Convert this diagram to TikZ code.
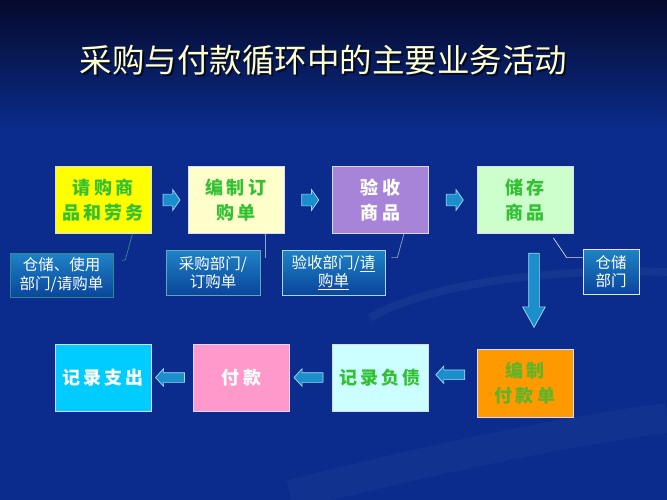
\documentclass[tikz,border=0pt]{standalone}
\usepackage{fontspec}
\usetikzlibrary{shapes.arrows,calc}
\newfontfamily\cjk{Noto Sans CJK SC}
\newfontfamily\cjkbox[LetterSpace=18]{Noto Sans CJK SC}
\definecolor{bgTop}{HTML}{050A2C}
\definecolor{bgMain}{HTML}{0B2C8C}
\definecolor{cYellow}{HTML}{FFFF00}
\definecolor{cCream}{HTML}{FFFFCC}
\definecolor{cPurple}{HTML}{A784D8}
\definecolor{cMint}{HTML}{CCFFCC}
\definecolor{cCyan}{HTML}{00CCFF}
\definecolor{cPink}{HTML}{FF99CC}
\definecolor{cIce}{HTML}{CCFFFF}
\definecolor{cOrange}{HTML}{FF9900}
\definecolor{cGreen}{HTML}{33C133}
\definecolor{cGreenD}{HTML}{5FB52A}
\definecolor{cTitle}{HTML}{FFFFCC}
\definecolor{cArrow}{HTML}{1B8FCB}
\definecolor{cArrowEdge}{HTML}{A8D8F0}
\definecolor{cCallTop}{HTML}{1F83C6}
\definecolor{cCallBot}{HTML}{0A459C}
\definecolor{cTeal}{HTML}{2F8A8A}
\definecolor{cLead}{HTML}{8FA6CC}
\begin{document}
\begin{tikzpicture}[x=1pt,y=-1pt,
  pbox/.style={draw=white!85!blue, line width=0.8pt, minimum width=96pt, minimum height=67pt,
    inner sep=0pt, align=center, font=\cjkbox\bfseries\fontsize{18}{25}\selectfont},
  callout/.style={draw=cArrowEdge, line width=0.8pt, top color=cCallTop, bottom color=cCallBot,
    text=white, inner sep=0pt, align=center, font=\cjk\fontsize{15.5}{18.5}\selectfont},
  leader/.style={draw=cLead, line width=0.7pt},
  blockarrow/.style={single arrow, draw=cArrowEdge, fill=cArrow, line width=0.7pt},
  rarrow/.style={blockarrow, inner sep=5.5pt, single arrow head extend=4.5pt,
    minimum height=17pt, single arrow tip angle=110},
  larrow/.style={blockarrow, inner sep=4.5pt, single arrow head extend=4pt,
    minimum height=29pt, single arrow tip angle=95, shape border rotate=180},
  darrow/.style={blockarrow, inner sep=5pt, single arrow head extend=6pt,
    minimum height=74pt, single arrow tip angle=58, shape border rotate=270},
  titlefont/.style={font=\cjk\fontsize{32.5}{38}\selectfont}
]
\useasboundingbox (0,0) rectangle (667,500);
% background
\fill[bgMain] (0,0) rectangle (667,500);
\shade[top color=bgTop, bottom color=bgMain] (0,0) rectangle (667,130);
\draw[white, opacity=0.045, line width=8pt] (370,318) .. controls (430,282) and (560,268) .. (667,272);
\draw[white, opacity=0.03, line width=30pt] (290,495) .. controls (420,462) and (560,432) .. (667,418);
% title
\node[text=black, opacity=0.6, titlefont] at (325.5,62) {采购与付款循环中的主要业务活动};
\node[text=cTitle, titlefont] (title) at (323.5,60) {采购与付款循环中的主要业务活动};
% top row
\node[pbox, fill=cYellow, text=cGreen] (b1) at (103,200) {请购商\\品和劳务};
\node[pbox, fill=cCream, text=cGreen] (b2) at (236,200) {编制订\\购单};
\node[pbox, fill=cPurple, text=white] (b3) at (380.5,200) {验收\\商品};
\node[pbox, fill=cMint, text=cGreen] (b4) at (525,200) {储存\\商品};
% bottom row
\node[pbox, fill=cCyan, text=white] (pA) at (103,377.5) {记录支出};
\node[pbox, fill=cPink, text=white] (pB) at (241.5,377.5) {付款};
\node[pbox, fill=cIce, text=cGreen] (pC) at (380,377.5) {记录负债};
\node[pbox, fill=cOrange, text=cGreenD, minimum height=68pt] (pD) at (525,383) {编制\\付款单};
% callouts
\node[callout, draw=cTeal, minimum width=103pt, minimum height=44pt] (c1) at (61.5,275) {仓储、使用\\部门/请购单};
\node[callout, draw=cTeal!60!cArrowEdge, minimum width=94pt, minimum height=45pt] (c2) at (213,272.5) {采购部门/\\订购单};
\node[callout, minimum width=103pt, minimum height=45pt] (c3) at (333.5,272.5) {验收部门/\underline{请}\\\underline{购单}};
\node[callout, draw=white!90!blue, minimum width=56pt, minimum height=45pt] (c4) at (611,271.5) {仓储\\部门};
% leaders
\draw[leader, draw=cTeal] ([xshift=-19pt]b1.south east) -- ($(c1.north east)+(12,7)$) -- ($(c1.north east)+(9,8)$);
\draw[leader] ([xshift=-19pt]b2.south east) -- ($(c2.north east)+(5,8)$);
\draw[leader] ([xshift=-25pt]b3.south east) -- ($(c3.north east)+(12,8)$) -- ($(c3.north east)+(6,8)$);
\draw[leader, draw=white!85!blue] ($(b4.south east)+(-20,4)$) -- ($(c4.north west)+(-16,9)$) -- ($(c4.north west)+(0,9)$);
% block arrows top
\node[rarrow] (a12) at ($(b1.east)!0.5!(b2.west)$) {};
\node[rarrow] (a23) at ($(b2.east)!0.5!(b3.west)$) {};
\node[rarrow] (a34) at ($(b3.east)!0.5!(b4.west)$) {};
% down arrow
\node[darrow] (a4D) at ($(b4.south)!0.45!(pD.north)+(9,0)$) {};
% block arrows bottom
\node[larrow] (aDC) at ($(pD.west)!0.5!(pC.east)+(0,-5.5)$) {};
\node[larrow] (aCB) at ($(pC.west)!0.5!(pB.east)$) {};
\node[larrow] (aBA) at ($(pB.west)!0.5!(pA.east)$) {};
\end{tikzpicture}
\end{document}
